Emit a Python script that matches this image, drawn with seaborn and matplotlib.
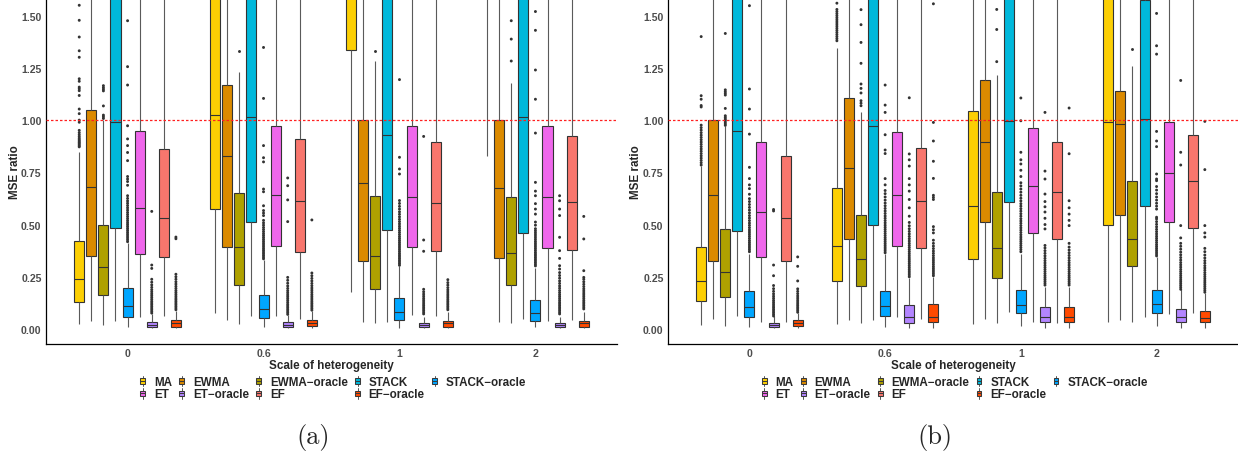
import numpy as np
import pandas as pd
import matplotlib
matplotlib.use("Agg")
import matplotlib.pyplot as plt
import seaborn as sns
from matplotlib.legend_handler import HandlerBase
from matplotlib.patches import Patch, Rectangle
from matplotlib.lines import Line2D

# ---------------------------------------------------------------- data
GROUPS = ["0", "0.6", "1", "2"]
METHODS = ["MA", "EWMA", "EWMA−oracle", "STACK", "STACK−oracle",
           "ET", "ET−oracle", "EF", "EF−oracle"]
COLORS = ["#FCCF03", "#DB8A00", "#AFA100", "#00B8DB", "#00A6FF",
          "#EF67EB", "#B385FF", "#F8766D", "#FF4A00"]
YTICKS = [0.0, 0.25, 0.5, 0.75, 1.0, 1.25, 1.5]
YTICKLABELS = ["0.00", "0.25", "0.50", "0.75", "1.00", "1.25", "1.50"]

# panel (a): box summaries, one row per heterogeneity level, one column per method
A_WLO = [[0.024, 0.040, 0.019, 0.040, 0.008, 0.056, 0.003, 0.064, 0.004],
         [0.077, 0.045, 0.024, 0.064, 0.008, 0.064, 0.003, 0.048, 0.004],
         [0.176, 0.032, 0.027, 0.035, 0.003, 0.067, 0.003, 0.064, 0.004],
         [0.830, 0.032, 0.027, 0.048, 0.008, 0.040, 0.003, 0.045, 0.004]]
A_Q1 = [[0.131, 0.351, 0.163, 0.482, 0.056, 0.357, 0.008, 0.346, 0.011],
        [0.574, 0.391, 0.211, 0.514, 0.051, 0.396, 0.008, 0.367, 0.013],
        [1.336, 0.327, 0.191, 0.474, 0.043, 0.393, 0.008, 0.372, 0.011],
        [1.700, 0.341, 0.211, 0.458, 0.040, 0.386, 0.008, 0.378, 0.011]]
A_MED = [[0.239, 0.681, 0.295, 0.989, 0.112, 0.579, 0.021, 0.533, 0.029],
         [1.024, 0.827, 0.391, 1.013, 0.096, 0.641, 0.020, 0.611, 0.029],
         [1.750, 0.697, 0.351, 0.929, 0.080, 0.630, 0.020, 0.602, 0.029],
         [2.000, 0.677, 0.362, 1.013, 0.077, 0.630, 0.020, 0.606, 0.029]]
A_Q3 = [[0.423, 1.050, 0.498, 1.900, 0.198, 0.949, 0.035, 0.862, 0.043],
        [1.700, 1.168, 0.649, 1.900, 0.163, 0.973, 0.032, 0.910, 0.043],
        [2.300, 1.002, 0.638, 1.900, 0.147, 0.970, 0.029, 0.894, 0.040],
        [2.400, 1.002, 0.632, 1.900, 0.140, 0.970, 0.029, 0.922, 0.040]]
A_WHI = [[0.846, 2.100, 1.000, 3.000, 0.410, 1.900, 0.070, 1.800, 0.088],
         [2.500, 2.100, 1.232, 3.000, 0.330, 1.900, 0.066, 1.900, 0.088],
         [3.000, 2.000, 1.283, 3.000, 0.300, 1.900, 0.058, 1.900, 0.080],
         [3.000, 2.000, 1.178, 3.000, 0.290, 1.900, 0.058, 1.900, 0.080]]

A_OUT_0 = {
    "MA": [0.872, 0.877, 0.883, 0.889, 0.894, 0.9, 0.906, 0.913, 0.921, 0.93, 0.94, 0.951,
           0.99, 1.0, 1.031, 1.053, 1.118, 1.141, 1.15, 1.158, 1.186, 1.198, 1.301, 1.332,
           1.398, 1.478, 1.55],
    "EWMA−oracle": [1.008, 1.016, 1.024, 1.068, 1.14, 1.148, 1.156, 1.165],
    "STACK−oracle": [0.418, 0.427, 0.436, 0.445, 0.454, 0.463, 0.472, 0.481, 0.49, 0.499,
                     0.508, 0.518, 0.528, 0.538, 0.548, 0.558, 0.569, 0.58, 0.591, 0.602,
                     0.613, 0.625, 0.638, 0.688, 0.706, 0.718, 0.73, 0.806, 0.845, 0.878,
                     0.91, 0.973, 1.168, 1.256, 1.476],
    "ET−oracle": [0.076, 0.084, 0.092, 0.1, 0.108, 0.116, 0.124, 0.132, 0.141, 0.15, 0.159,
                  0.168, 0.178, 0.188, 0.199, 0.211, 0.224, 0.238, 0.29, 0.306, 0.563],
    "EF−oracle": [0.092, 0.1, 0.108, 0.116, 0.124, 0.132, 0.14, 0.148, 0.157, 0.166, 0.175,
                  0.184, 0.194, 0.204, 0.215, 0.226, 0.238, 0.25, 0.262, 0.432, 0.44],
}
A_OUT_06 = {
    "EWMA−oracle": [1.332],
    "STACK−oracle": [0.336, 0.344, 0.352, 0.36, 0.368, 0.376, 0.384, 0.393, 0.402, 0.411,
                     0.42, 0.429, 0.438, 0.447, 0.456, 0.466, 0.476, 0.486, 0.497, 0.508,
                     0.52, 0.543, 0.555, 0.567, 0.59, 0.657, 0.67, 0.8, 0.82, 0.878, 1.104,
                     1.348],
    "ET−oracle": [0.07, 0.078, 0.086, 0.094, 0.102, 0.11, 0.118, 0.127, 0.136, 0.145, 0.154,
                  0.163, 0.173, 0.183, 0.194, 0.206, 0.219, 0.233, 0.247, 0.514, 0.618,
                  0.686, 0.723],
    "EF−oracle": [0.09, 0.098, 0.106, 0.114, 0.122, 0.13, 0.139, 0.148, 0.157, 0.166, 0.176,
                  0.186, 0.196, 0.207, 0.218, 0.23, 0.242, 0.255, 0.268, 0.522],
}
A_OUT_1 = {
    "EWMA−oracle": [1.332],
    "STACK−oracle": [0.305, 0.313, 0.321, 0.329, 0.337, 0.345, 0.353, 0.361, 0.37, 0.379,
                     0.388, 0.397, 0.406, 0.415, 0.424, 0.433, 0.442, 0.452, 0.462, 0.472,
                     0.482, 0.492, 0.503, 0.514, 0.525, 0.537, 0.549, 0.561, 0.574, 0.587,
                     0.601, 0.615, 0.742, 0.766, 0.822, 1.194],
    "ET−oracle": [0.072, 0.08, 0.088, 0.096, 0.104, 0.112, 0.12, 0.129, 0.138, 0.147, 0.157,
                  0.167, 0.178, 0.19, 0.372, 0.426, 0.922],
    "EF−oracle": [0.092, 0.1, 0.108, 0.116, 0.124, 0.132, 0.14, 0.149, 0.158, 0.167, 0.177,
                  0.187, 0.198, 0.21, 0.222, 0.236],
}
A_OUT_2 = {
    "EWMA−oracle": [1.283, 1.388, 1.476],
    "STACK−oracle": [0.302, 0.31, 0.318, 0.326, 0.334, 0.342, 0.35, 0.358, 0.366, 0.375,
                     0.384, 0.393, 0.402, 0.411, 0.42, 0.43, 0.44, 0.45, 0.46, 0.47, 0.48,
                     0.497, 0.512, 0.55, 0.574, 0.6, 0.638, 0.66, 0.702, 0.938, 1.1, 1.24,
                     1.43, 1.52],
    "ET−oracle": [0.072, 0.08, 0.088, 0.096, 0.104, 0.112, 0.12, 0.128, 0.137, 0.146, 0.155,
                  0.164, 0.174, 0.184, 0.195, 0.206, 0.218, 0.23, 0.243, 0.256, 0.27, 0.287,
                  0.303, 0.338, 0.375, 0.439, 0.543, 0.574, 0.614, 0.638],
    "EF−oracle": [0.096, 0.104, 0.112, 0.12, 0.128, 0.136, 0.145, 0.154, 0.163, 0.172, 0.182,
                  0.192, 0.203, 0.214, 0.226, 0.238, 0.247, 0.279, 0.431, 0.539],
}

# panel (b): box summaries
B_WLO = [[0.019, 0.048, 0.016, 0.064, 0.008, 0.035, 0.003, 0.035, 0.004],
         [0.024, 0.045, 0.029, 0.045, 0.008, 0.056, 0.003, 0.048, 0.004],
         [0.024, 0.048, 0.029, 0.083, 0.013, 0.035, 0.003, 0.029, 0.004],
         [0.035, 0.045, 0.035, 0.056, 0.013, 0.072, 0.003, 0.077, 0.004]]
B_Q1 = [[0.136, 0.327, 0.152, 0.468, 0.056, 0.346, 0.008, 0.324, 0.013],
        [0.228, 0.431, 0.204, 0.499, 0.061, 0.399, 0.029, 0.386, 0.032],
        [0.335, 0.514, 0.243, 0.606, 0.077, 0.460, 0.032, 0.431, 0.032],
        [0.498, 0.547, 0.303, 0.587, 0.075, 0.514, 0.032, 0.485, 0.032]]
B_MED = [[0.231, 0.643, 0.271, 0.949, 0.104, 0.558, 0.020, 0.531, 0.029],
         [0.399, 0.772, 0.333, 0.970, 0.109, 0.641, 0.059, 0.611, 0.059],
         [0.590, 0.897, 0.388, 0.997, 0.115, 0.685, 0.056, 0.657, 0.059],
         [0.989, 0.980, 0.431, 1.005, 0.120, 0.745, 0.056, 0.707, 0.051]]
B_Q3 = [[0.394, 1.002, 0.479, 1.900, 0.180, 0.897, 0.030, 0.830, 0.043],
        [0.677, 1.107, 0.546, 1.900, 0.184, 0.941, 0.116, 0.867, 0.120],
        [1.042, 1.190, 0.654, 1.900, 0.188, 0.961, 0.104, 0.897, 0.104],
        [1.900, 1.138, 0.708, 1.576, 0.187, 0.993, 0.096, 0.930, 0.088]]
B_WHI = [[0.780, 2.000, 0.970, 3.000, 0.360, 1.900, 0.060, 1.900, 0.075],
         [1.345, 2.100, 1.037, 3.000, 0.360, 1.900, 0.245, 1.900, 0.250],
         [2.100, 2.100, 1.217, 3.000, 0.360, 1.900, 0.200, 1.900, 0.200],
         [3.000, 2.000, 1.257, 3.000, 0.345, 1.900, 0.190, 1.900, 0.170]]

B_OUT_0 = {
    "MA": [0.785, 0.796, 0.807, 0.818, 0.829, 0.84, 0.851, 0.862, 0.873, 0.884, 0.895,
           0.906, 0.917, 0.928, 0.94, 0.952, 0.964, 0.976, 1.063, 1.07, 1.1, 1.117, 1.4],
    "EWMA−oracle": [0.975, 0.982, 0.99, 0.998, 1.005, 1.013, 1.021, 1.056, 1.12, 1.128,
                    1.136, 1.145, 1.415],
    "STACK−oracle": [0.37, 0.379, 0.388, 0.397, 0.406, 0.415, 0.424, 0.434, 0.444, 0.454,
                     0.464, 0.474, 0.485, 0.496, 0.507, 0.519, 0.531, 0.543, 0.556, 0.569,
                     0.582, 0.596, 0.61, 0.624, 0.645, 0.672, 0.69, 0.72, 0.774, 0.933,
                     1.053, 1.149, 1.548],
    "ET−oracle": [0.062, 0.07, 0.078, 0.086, 0.094, 0.102, 0.11, 0.119, 0.128, 0.137, 0.147,
                  0.157, 0.168, 0.18, 0.193, 0.208, 0.255, 0.306, 0.565, 0.572],
    "EF−oracle": [0.08, 0.088, 0.096, 0.104, 0.112, 0.12, 0.129, 0.138, 0.148, 0.158, 0.169,
                  0.18, 0.192, 0.23, 0.3, 0.345],
}
B_OUT_06 = {
    "MA": [1.38, 1.39, 1.4, 1.41, 1.42, 1.43, 1.44, 1.45, 1.46, 1.47, 1.48, 1.49, 1.5,
           1.51, 1.52, 1.53, 1.56],
    "EWMA−oracle": [1.069, 1.081, 1.093, 1.13, 1.152, 1.173, 1.272, 1.372, 1.457, 1.529],
    "STACK−oracle": [0.365, 0.374, 0.383, 0.392, 0.401, 0.41, 0.419, 0.428, 0.437, 0.447,
                     0.457, 0.467, 0.477, 0.487, 0.497, 0.508, 0.519, 0.53, 0.541, 0.553,
                     0.565, 0.577, 0.59, 0.603, 0.617, 0.632, 0.648, 0.663, 0.69, 0.72,
                     0.84, 0.857, 0.93, 1.037, 1.072, 1.168],
    "ET−oracle": [0.25, 0.259, 0.268, 0.277, 0.286, 0.295, 0.304, 0.313, 0.322, 0.331, 0.34,
                  0.35, 0.36, 0.37, 0.38, 0.39, 0.4, 0.41, 0.421, 0.432, 0.443, 0.455,
                  0.467, 0.48, 0.494, 0.51, 0.54, 0.58, 0.62, 0.66, 0.69, 0.72, 0.78, 0.81,
                  0.838, 1.107],
    "EF−oracle": [0.255, 0.264, 0.273, 0.282, 0.291, 0.3, 0.31, 0.32, 0.33, 0.34, 0.351,
                  0.362, 0.373, 0.385, 0.397, 0.41, 0.425, 0.46, 0.475, 0.49, 0.62, 0.63,
                  0.64, 0.721, 0.803, 0.9, 0.989, 1.557],
}
B_OUT_1 = {
    "EWMA−oracle": [1.28, 1.434, 1.53],
    "STACK−oracle": [0.37, 0.38, 0.39, 0.4, 0.41, 0.42, 0.43, 0.44, 0.451, 0.462, 0.473,
                     0.484, 0.495, 0.506, 0.517, 0.528, 0.54, 0.552, 0.564, 0.576, 0.588,
                     0.6, 0.613, 0.626, 0.64, 0.655, 0.67, 0.685, 0.7, 0.73, 0.76, 0.79,
                     0.81, 0.846, 0.997, 1.106],
    "ET−oracle": [0.21, 0.219, 0.228, 0.237, 0.246, 0.255, 0.265, 0.275, 0.285, 0.295,
                  0.305, 0.316, 0.327, 0.338, 0.35, 0.362, 0.375, 0.388, 0.4, 0.479, 0.5,
                  0.53, 0.56, 0.585, 0.61, 0.646, 0.718, 0.756, 1.037],
    "EF−oracle": [0.21, 0.219, 0.228, 0.237, 0.246, 0.255, 0.265, 0.275, 0.285, 0.295,
                  0.306, 0.317, 0.328, 0.34, 0.352, 0.365, 0.378, 0.392, 0.41, 0.495, 0.52,
                  0.55, 0.58, 0.614, 0.839, 1.058],
}
B_OUT_2 = {
    "EWMA−oracle": [1.34],
    "STACK−oracle": [0.35, 0.359, 0.368, 0.377, 0.386, 0.395, 0.404, 0.414, 0.424, 0.434,
                     0.444, 0.455, 0.466, 0.477, 0.489, 0.501, 0.514, 0.527, 0.535, 0.574,
                     0.588, 0.602, 0.617, 0.632, 0.648, 0.665, 0.682, 0.71, 0.718, 0.742,
                     0.873, 0.9, 0.946, 1.316, 1.356, 1.511],
    "ET−oracle": [0.19, 0.199, 0.208, 0.217, 0.226, 0.235, 0.245, 0.255, 0.265, 0.275,
                  0.285, 0.296, 0.307, 0.318, 0.33, 0.342, 0.355, 0.368, 0.382, 0.396,
                  0.41, 0.436, 0.495, 0.785, 0.846, 1.19],
    "EF−oracle": [0.176, 0.185, 0.194, 0.203, 0.212, 0.221, 0.23, 0.24, 0.25, 0.26, 0.27,
                  0.281, 0.292, 0.303, 0.315, 0.327, 0.34, 0.354, 0.37, 0.386, 0.44, 0.46,
                  0.495, 0.763, 0.994],
}

# ---------------------------------------------------------------- helpers
def box_frame(wlo, q1, med, q3, whi):
    """Long table whose quartiles and extremes equal the given summaries."""
    rows = []
    for g, level in enumerate(GROUPS):
        for m, method in enumerate(METHODS):
            vals = ([wlo[g][m]] + [q1[g][m]] * 3 + [med[g][m]] * 3
                    + [q3[g][m]] * 3 + [whi[g][m]])
            rows += [(level, method, v) for v in vals]
    return pd.DataFrame(rows, columns=["scale", "method", "mse"])


def flier_frame(outs):
    rows = []
    for level, out in zip(GROUPS, outs):
        for method, vals in out.items():
            rows += [(level, method, v) for v in vals]
    return pd.DataFrame(rows, columns=["scale", "method", "mse"])


class BoxGlyph(HandlerBase):
    """Small boxplot-shaped legend key."""
    def create_artists(self, legend, orig_handle, xdescent, ydescent,
                       width, height, fontsize, trans):
        cx = -xdescent + width / 2
        y0 = -ydescent
        bw = 3.4
        fc = orig_handle.get_facecolor()
        rect = Rectangle((cx - bw / 2, y0 + 0.2 * height), bw, 0.6 * height,
                         facecolor=fc, edgecolor="#3a3a3a", lw=0.75, transform=trans)
        med = Line2D([cx - bw / 2, cx + bw / 2], [y0 + 0.5 * height] * 2,
                     color="#3a3a3a", lw=0.75, transform=trans)
        w1 = Line2D([cx, cx], [y0 - 0.12 * height, y0 + 0.2 * height],
                    color="#555555", lw=0.7, transform=trans)
        w2 = Line2D([cx, cx], [y0 + 0.8 * height, y0 + 1.12 * height],
                    color="#555555", lw=0.7, transform=trans)
        return [w1, w2, rect, med]


# ---------------------------------------------------------------- figure
sns.set_style("white")
plt.rcParams["font.family"] = ["Liberation Sans", "DejaVu Sans"]

W, H = 1238, 456
fig = plt.figure(figsize=(W / 100, H / 100), dpi=100)

panels = [
    (box_frame(A_WLO, A_Q1, A_MED, A_Q3, A_WHI),
     flier_frame([A_OUT_0, A_OUT_06, A_OUT_1, A_OUT_2]),
     [46 / W, 1 - 345 / H, 571 / W, 345 / H], "(a)", 313 / W, -0.044),
    (box_frame(B_WLO, B_Q1, B_MED, B_Q3, B_WHI),
     flier_frame([B_OUT_0, B_OUT_06, B_OUT_1, B_OUT_2]),
     [668 / W, 1 - 345 / H, 570 / W, 345 / H], "(b)", 935 / W, -0.046),
]

legend_order = [0, 5, 1, 6, 2, 7, 3, 8, 4]
handles = [Patch(facecolor=COLORS[i], label=METHODS[i]) for i in legend_order]
labels = [METHODS[i] for i in legend_order]

for boxes, fliers, rect, caption, cap_x, ylab_x in panels:
    ax = fig.add_axes(rect)
    sns.boxplot(data=boxes, x="scale", y="mse", hue="method",
                order=GROUPS, hue_order=METHODS, palette=COLORS,
                saturation=1, width=0.8, gap=0.17, whis=(0, 100),
                linecolor="#333333", linewidth=0.8, showfliers=False,
                showcaps=False, whiskerprops=dict(color="#5a5a5a"),
                legend=False, ax=ax)
    sns.stripplot(data=fliers, x="scale", y="mse", hue="method",
                  order=GROUPS, hue_order=METHODS,
                  palette={m: "#333333" for m in METHODS},
                  dodge=True, jitter=False, size=2.1, linewidth=0,
                  legend=False, ax=ax, zorder=3)
    ax.axhline(1.0, color="#FF2020", lw=0.9, ls=(0, (2, 1.6)), zorder=4)

    ax.set_xlim(-0.6, 3.6)
    ax.set_ylim(-0.072, 1.58)
    ax.set_yticks(YTICKS)
    ax.set_yticklabels(YTICKLABELS)
    ax.set_xticks(range(len(GROUPS)))
    ax.set_xticklabels(GROUPS)
    ax.tick_params(axis="both", length=2.2, width=0.8, color="#333333",
                   labelsize=7.6, labelcolor="#4D4D4D", pad=1.0)
    for lbl in ax.get_xticklabels() + ax.get_yticklabels():
        lbl.set_fontweight("bold")
    for side in ("top", "right"):
        ax.spines[side].set_visible(False)
    for side in ("left", "bottom"):
        ax.spines[side].set_color("black")
        ax.spines[side].set_linewidth(0.9)

    ax.set_xlabel("Scale of heterogeneity", fontsize=8.4, fontweight="bold",
                  labelpad=0.3)
    ax.set_ylabel("MSE ratio", fontsize=8.4, fontweight="bold")
    ax.yaxis.set_label_coords(ylab_x, 0.5)

    ax.legend(handles, labels, handler_map={Patch: BoxGlyph()},
              loc="upper center", bbox_to_anchor=(0.5, -0.076), ncol=5,
              frameon=False, prop={"weight": "bold", "size": 8.4},
              handlelength=1.0, handleheight=0.75, handletextpad=0.45,
              columnspacing=0.35, labelspacing=0.02, borderpad=0)

    fig.text(cap_x, 1 - 438 / H, caption, ha="center", va="center",
             fontsize=19, family="cmr10")

fig.savefig("out.png", dpi=100)
